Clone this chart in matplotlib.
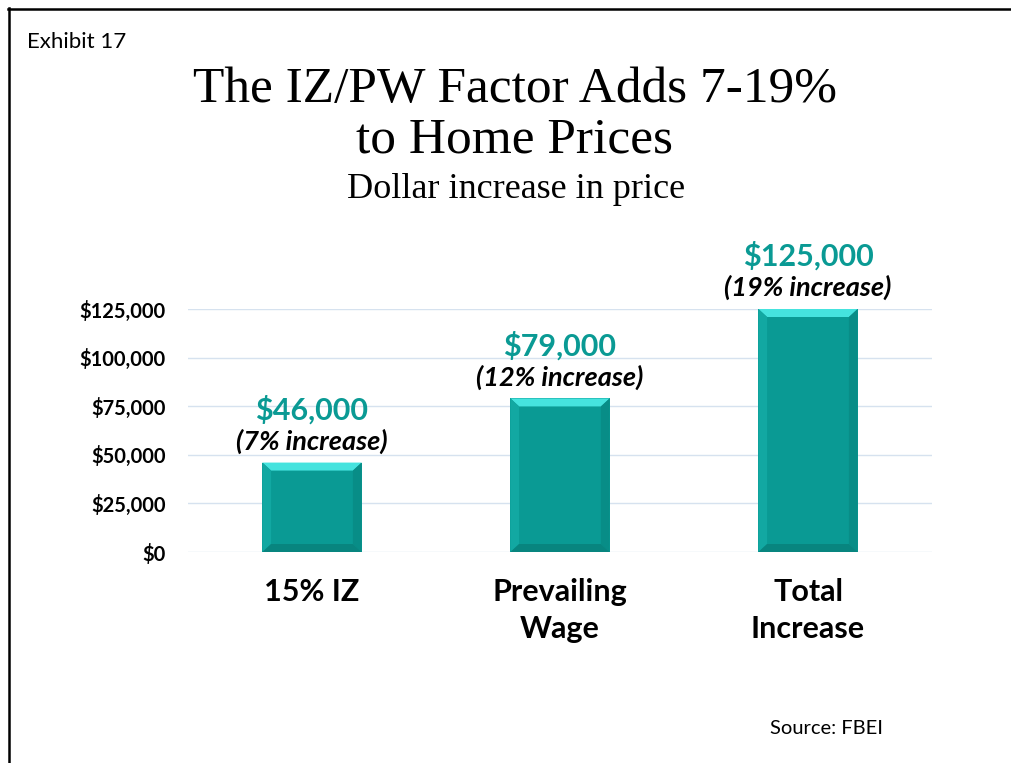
import matplotlib.pyplot as plt
from matplotlib.lines import Line2D
from matplotlib.patches import Polygon
from matplotlib.ticker import FuncFormatter

categories = ['15% IZ', 'Prevailing\nWage', 'Total\nIncrease']
values = [46000, 79000, 125000]
value_labels = ['$46,000', '$79,000', '$125,000']
pct_labels = ['(7% increase)', '(12% increase)', '(19% increase)']
yticks = [0, 25000, 50000, 75000, 100000, 125000]

teal = '#0a9a94'
sans = 'Lato'
serif = 'Liberation Serif'

fig = plt.figure(figsize=(10.11, 7.63), dpi=100)
W, H = 1011, 763

# frame lines (top and left)
fig.add_artist(Line2D([8 / W, 1], [1 - 8.5 / H, 1 - 8.5 / H], color='black', lw=1.8, transform=fig.transFigure))
fig.add_artist(Line2D([8.5 / W, 8.5 / W], [0, 1 - 8 / H], color='black', lw=1.8, transform=fig.transFigure))

fig.text(27 / W, 1 - 42 / H, 'Exhibit 17', fontsize=16, family=sans, va='center', ha='left')
fig.text(515 / W, 1 - 90 / H, 'The IZ/PW Factor Adds 7-19%', fontsize=37, family=serif, ha='center', va='center')
fig.text(515 / W, 1 - 140 / H, 'to Home Prices', fontsize=37, family=serif, ha='center', va='center')
fig.text(516 / W, 1 - 190 / H, 'Dollar increase in price', fontsize=26, family=serif, ha='center', va='center')
fig.text(770 / W, 1 - 728 / H, 'Source: FBEI', fontsize=14.5, family=sans, ha='left', va='center')

ax = fig.add_axes([188 / W, 1 - 552 / H, 744 / W, 243 / H])
x = list(range(len(categories)))
bw = 0.4
ax.bar(x, values, width=bw, color=teal, zorder=2)

# bevel shading on each bar
bx = 0.035
by = 8 * 125000 / 243
for xi, v in zip(x, values):
    l, r = xi - bw / 2, xi + bw / 2
    faces = [
        ([(l, v), (r, v), (r - bx, v - by), (l + bx, v - by)], '#45e3de'),
        ([(l, v), (l + bx, v - by), (l + bx, by), (l, 0)], '#12a8a2'),
        ([(r, v), (r - bx, v - by), (r - bx, by), (r, 0)], '#088d87'),
        ([(l, 0), (l + bx, by), (r - bx, by), (r, 0)], '#08857f'),
    ]
    for pts, c in faces:
        ax.add_patch(Polygon(pts, closed=True, color=c, lw=0, zorder=3))

for xi, v, vl, pl in zip(x, values, value_labels, pct_labels):
    ax.annotate(pl, (xi, v), xytext=(0, 15.5), textcoords='offset points', ha='center', va='center',
                fontsize=19.5, fontweight='bold', fontstyle='italic', family=sans, annotation_clip=False)
    ax.annotate(vl, (xi, v), xytext=(0, 38), textcoords='offset points', ha='center', va='center',
                fontsize=22, fontweight='bold', color=teal, family=sans, annotation_clip=False)

ax.set_xlim(-0.5, 2.5)
ax.set_ylim(0, 125000)
ax.set_yticks(yticks)
ax.yaxis.set_major_formatter(FuncFormatter(lambda v, p: '${:,.0f}'.format(v)))
ax.set_xticks(x)
ax.set_xticklabels(categories, fontsize=22, fontweight='bold', family=sans, linespacing=1.38)
for t in ax.get_yticklabels():
    t.set_fontsize(14.5)
    t.set_fontweight('bold')
    t.set_family(sans)
ax.tick_params(axis='both', length=0)
ax.tick_params(axis='y', pad=16)
ax.tick_params(axis='x', pad=19)
ax.grid(axis='y', color='#d6e2ef', lw=1, zorder=0)
ax.set_axisbelow(True)
for s in ax.spines.values():
    s.set_visible(False)

fig.savefig('out.png', dpi=100)
